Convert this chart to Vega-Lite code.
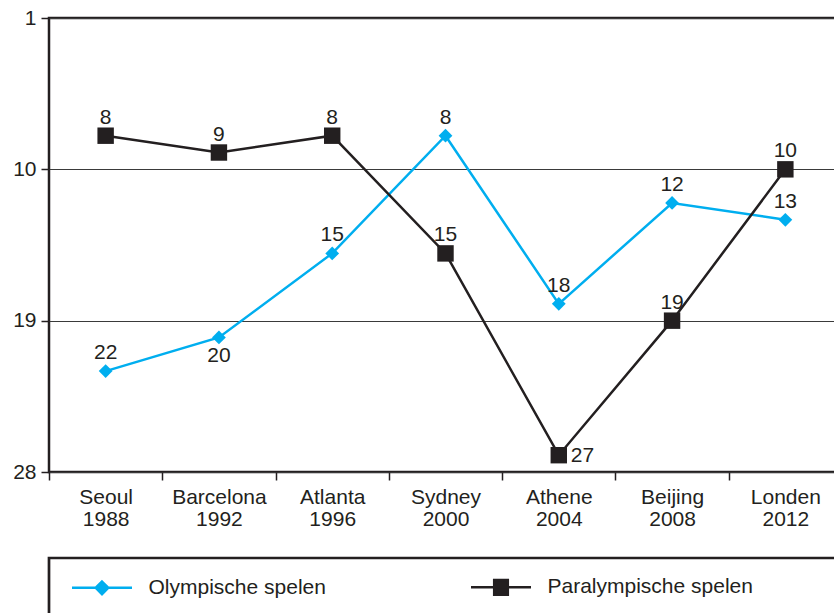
{
  "$schema": "https://vega.github.io/schema/vega-lite/v6.json",
  "width": 793,
  "height": 454,
  "autosize": {"type": "none"},
  "padding": {"left": 49, "top": 18, "right": 0, "bottom": 141},
  "background": "white",
  "config": {
    "view": {"stroke": "#231f20", "strokeWidth": 2.5},
    "font": "Liberation Sans"
  },
  "data": {
    "values": [
      {"stad": "Seoul 1988", "serie": "Olympische spelen", "plaats": 22},
      {"stad": "Barcelona 1992", "serie": "Olympische spelen", "plaats": 20},
      {"stad": "Atlanta 1996", "serie": "Olympische spelen", "plaats": 15},
      {"stad": "Sydney 2000", "serie": "Olympische spelen", "plaats": 8},
      {"stad": "Athene 2004", "serie": "Olympische spelen", "plaats": 18},
      {"stad": "Beijing 2008", "serie": "Olympische spelen", "plaats": 12},
      {"stad": "Londen 2012", "serie": "Olympische spelen", "plaats": 13},
      {"stad": "Seoul 1988", "serie": "Paralympische spelen", "plaats": 8},
      {"stad": "Barcelona 1992", "serie": "Paralympische spelen", "plaats": 9},
      {"stad": "Atlanta 1996", "serie": "Paralympische spelen", "plaats": 8},
      {"stad": "Sydney 2000", "serie": "Paralympische spelen", "plaats": 15},
      {"stad": "Athene 2004", "serie": "Paralympische spelen", "plaats": 27},
      {"stad": "Beijing 2008", "serie": "Paralympische spelen", "plaats": 19},
      {"stad": "Londen 2012", "serie": "Paralympische spelen", "plaats": 10}
    ]
  },
  "encoding": {
    "x": {
      "field": "stad",
      "type": "nominal",
      "sort": null,
      "scale": {"type": "band", "paddingInner": 0, "paddingOuter": 0},
      "axis": {
        "title": null,
        "tickBand": "extent",
        "labelExpr": "split(datum.label, ' ')",
        "labelAngle": 0,
        "domain": false,
        "ticks": true,
        "tickSize": 8,
        "tickWidth": 1.5,
        "tickColor": "#231f20",
        "labelFontSize": 21,
        "labelColor": "#231f20",
        "labelPadding": 6,
        "labelLineHeight": 22,
        "grid": false
      }
    },
    "y": {
      "field": "plaats",
      "type": "quantitative",
      "scale": {"domain": [1, 28], "reverse": true, "nice": false, "zero": false},
      "axis": {
        "title": null,
        "values": [1, 10, 19, 28],
        "domain": false,
        "tickSize": 8,
        "tickWidth": 1.5,
        "tickColor": "#231f20",
        "labelFontSize": 21,
        "labelColor": "#231f20",
        "labelPadding": 5,
        "grid": true,
        "gridColor": "#3a3a3a",
        "gridWidth": 1
      }
    }
  },
  "layer": [
    {
      "mark": {"type": "line", "strokeWidth": 2.5},
      "encoding": {
        "color": {
          "field": "serie",
          "type": "nominal",
          "scale": {"domain": ["Olympische spelen", "Paralympische spelen"], "range": ["#00aeef", "#231f20"]},
          "legend": {
            "orient": "none",
            "legendX": 0,
            "legendY": 540,
            "title": null,
            "direction": "horizontal",
            "columns": 2,
            "padding": 19,
            "strokeColor": "#231f20",
            "fillColor": "white",
            "labelFontSize": 21,
            "labelColor": "#231f20",
            "labelLimit": 500,
            "symbolSize": 3600,
            "symbolStrokeWidth": 2.5,
            "symbolOffset": 2.5,
            "labelOffset": 15,
            "columnPadding": 140,
            "encode": {
              "legend": {"update": {"strokeWidth": {"value": 2.7}}},
              "labels": {"update": {"y": {"value": 10}}},
              "symbols": {
                "update": {
                  "y": {"value": 10},
                  "shape": {"signal": "datum.value == 'Olympische spelen' ? 'M-1,0H1M0,-0.21L0.21,0L0,0.21L-0.21,0Z' : 'M-1,0H1M-0.227,-0.243H0.227V0.243H-0.227ZM12,0L12.05,0'"},
                  "fill": {"signal": "datum.value == 'Olympische spelen' ? '#00aeef' : '#231f20'"},
                  "stroke": {"signal": "datum.value == 'Olympische spelen' ? '#00aeef' : '#231f20'"},
                  "strokeWidth": {"value": 2.5},
                  "size": {"value": 3600},
                  "opacity": {"value": 1}
                }
              }
            }
          }
        }
      }
    },
    {
      "transform": [{"filter": "datum.serie == 'Olympische spelen'"}],
      "mark": {"type": "point", "shape": "diamond", "size": 190, "filled": true, "opacity": 1},
      "encoding": {"color": {"field": "serie", "type": "nominal"}}
    },
    {
      "transform": [{"filter": "datum.serie == 'Paralympische spelen'"}],
      "mark": {"type": "point", "shape": "square", "size": 270, "filled": true, "opacity": 1},
      "encoding": {"color": {"field": "serie", "type": "nominal"}}
    },
    {
      "transform": [{"filter": "!((datum.serie == 'Olympische spelen' && datum.stad == 'Barcelona 1992') || (datum.serie == 'Paralympische spelen' && datum.stad == 'Athene 2004'))"}],
      "mark": {"type": "text", "fontSize": 21, "color": "#231f20", "baseline": "alphabetic", "dy": -12},
      "encoding": {"text": {"field": "plaats", "type": "quantitative"}}
    },
    {
      "transform": [{"filter": "datum.serie == 'Olympische spelen' && datum.stad == 'Barcelona 1992'"}],
      "mark": {"type": "text", "fontSize": 21, "color": "#231f20", "baseline": "alphabetic", "dy": 25},
      "encoding": {"text": {"field": "plaats", "type": "quantitative"}}
    },
    {
      "transform": [{"filter": "datum.serie == 'Paralympische spelen' && datum.stad == 'Athene 2004'"}],
      "mark": {"type": "text", "fontSize": 21, "color": "#231f20", "align": "left", "baseline": "middle", "dx": 12, "dy": 1},
      "encoding": {"text": {"field": "plaats", "type": "quantitative"}}
    }
  ]
}
